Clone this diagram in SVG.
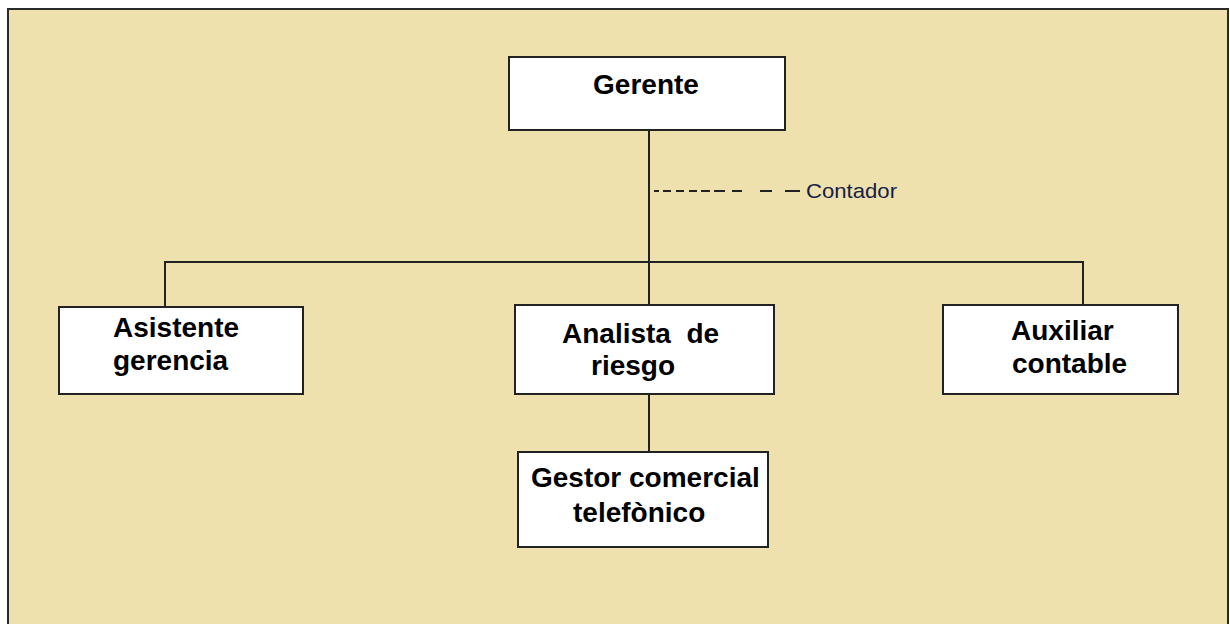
<svg xmlns="http://www.w3.org/2000/svg" width="1230" height="624" viewBox="0 0 1230 624">
<style>
.box{fill:#ffffff;stroke:#222222;stroke-width:2}
.lbl{font-family:"Liberation Sans",Arial,sans-serif;font-weight:bold;font-size:28px;fill:#000000}
.ln{stroke:#222222;stroke-width:2;fill:none}
.note{font-family:"Liberation Sans",Arial,sans-serif;font-size:21px;fill:#141d45}
</style>
<rect x="0" y="0" width="1230" height="624" fill="#ffffff"/>
<rect id="frame" x="8" y="9" width="1220" height="630" fill="#EFE1AE" stroke="#2a2a2a" stroke-width="2"/>
<g id="connectors">
<line class="ln" x1="649" y1="130" x2="649" y2="262"/>
<line class="ln" x1="165" y1="262" x2="1083" y2="262"/>
<line class="ln" x1="165" y1="261" x2="165" y2="307"/>
<line class="ln" x1="649" y1="261" x2="649" y2="305"/>
<line class="ln" x1="1083" y1="261" x2="1083" y2="305"/>
<line class="ln" x1="649" y1="394" x2="649" y2="453"/>
<line class="ln" x1="654" y1="191" x2="800" y2="191" stroke-dasharray="5 4 8 5 8 5 8 4 9 4 11 7 10 18 12 13 15"/>
</g>
<text class="note" x="806" y="198" textLength="91" lengthAdjust="spacingAndGlyphs">Contador</text>
<g id="gerente">
<rect class="box" x="509" y="57" width="276" height="73"/>
<text class="lbl" x="646" y="94" text-anchor="middle">Gerente</text>
</g>
<g id="asistente">
<rect class="box" x="59" y="307" width="244" height="87"/>
<text class="lbl" x="113" y="337">Asistente</text>
<text class="lbl" x="113" y="370">gerencia</text>
</g>
<g id="analista">
<rect class="box" x="515" y="305" width="259" height="89"/>
<text class="lbl" x="562" y="343" xml:space="preserve">Analista  de</text>
<text class="lbl" x="591" y="375">riesgo</text>
</g>
<g id="auxiliar">
<rect class="box" x="943" y="305" width="235" height="89"/>
<text class="lbl" x="1011" y="340">Auxiliar</text>
<text class="lbl" x="1012" y="373">contable</text>
</g>
<g id="gestor">
<rect class="box" x="518" y="452" width="250" height="95"/>
<text class="lbl" x="531" y="487">Gestor comercial</text>
<text class="lbl" x="573" y="522">telefònico</text>
</g>
</svg>
